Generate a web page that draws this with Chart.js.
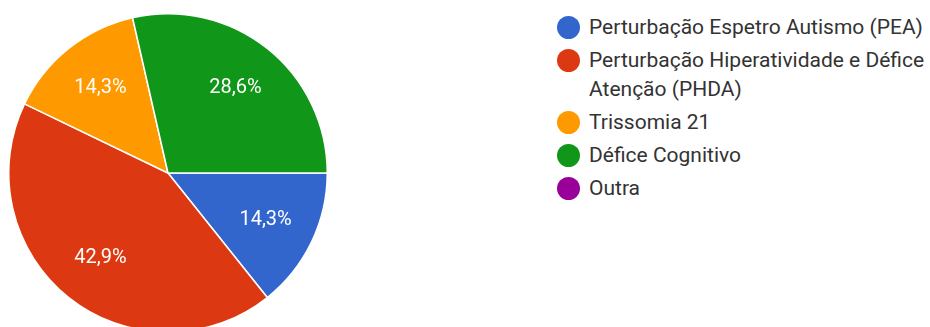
<!DOCTYPE html>
<html>
<head>
<meta charset="utf-8">
<script src="https://cdn.jsdelivr.net/npm/chart.js@4/dist/chart.umd.min.js"></script>
<style>
  html, body { margin: 0; padding: 0; background: #fff; width: 930px; height: 327px; overflow: hidden; }
  #wrap { position: absolute; left: 8px; top: 13px; width: 320px; height: 320px; }
  #legend { position: absolute; left: 557px; top: 13px; margin: 0; padding: 0; list-style: none;
            font-family: Roboto, Arial, sans-serif; font-size: 21px; color: #333; }
  #legend li { display: flex; align-items: flex-start; margin-bottom: 4px; line-height: 29px; }
  #legend .dot { flex: none; width: 23px; height: 23px; border-radius: 50%; margin-top: 3px; margin-right: 9px; }
  #legend .txt { width: 345px; }
</style>
</head>
<body>
<div id="wrap"><canvas id="c"></canvas></div>
<ul id="legend"></ul>
<script>
const categories = [
  "Perturbação Espetro Autismo (PEA)",
  "Perturbação Hiperatividade e Défice Atenção (PHDA)",
  "Trissomia 21",
  "Défice Cognitivo",
  "Outra"
];
const responses = [1, 3, 1, 2, 0];
const percentLabels = ["14,3%", "42,9%", "14,3%", "28,6%", ""];
const colors = ["#3366cc", "#dc3912", "#ff9900", "#109618", "#990099"];

const labelPlugin = {
  id: 'sliceLabels',
  afterDatasetsDraw(chart) {
    const ctx = chart.ctx;
    const meta = chart.getDatasetMeta(0);
    ctx.save();
    ctx.fillStyle = '#ffffff';
    ctx.font = '20px Roboto, Arial, sans-serif';
    ctx.textAlign = 'center';
    ctx.textBaseline = 'middle';
    meta.data.forEach((arc, i) => {
      if (!responses[i]) return;
      const p = arc.getProps(['x', 'y', 'startAngle', 'endAngle', 'outerRadius'], true);
      const mid = (p.startAngle + p.endAngle) / 2;
      const r = p.outerRadius * 0.68;
      ctx.fillText(percentLabels[i], p.x + Math.cos(mid) * r, p.y + Math.sin(mid) * r);
    });
    ctx.restore();
  }
};

new Chart(document.getElementById('c'), {
  type: 'pie',
  data: {
    labels: categories,
    datasets: [{
      data: responses,
      backgroundColor: colors,
      borderColor: '#ffffff',
      borderWidth: 1.5
    }]
  },
  options: {
    responsive: true,
    maintainAspectRatio: false,
    animation: false,
    rotation: 90,
    layout: { padding: 0 },
    plugins: {
      legend: { display: false },
      tooltip: { enabled: false }
    }
  },
  plugins: [labelPlugin]
});

const ul = document.getElementById('legend');
categories.forEach((name, i) => {
  const li = document.createElement('li');
  const dot = document.createElement('span');
  dot.className = 'dot';
  dot.style.background = colors[i];
  const t = document.createElement('span');
  t.className = 'txt';
  t.textContent = name;
  li.appendChild(dot);
  li.appendChild(t);
  ul.appendChild(li);
});
</script>
</body>
</html>
